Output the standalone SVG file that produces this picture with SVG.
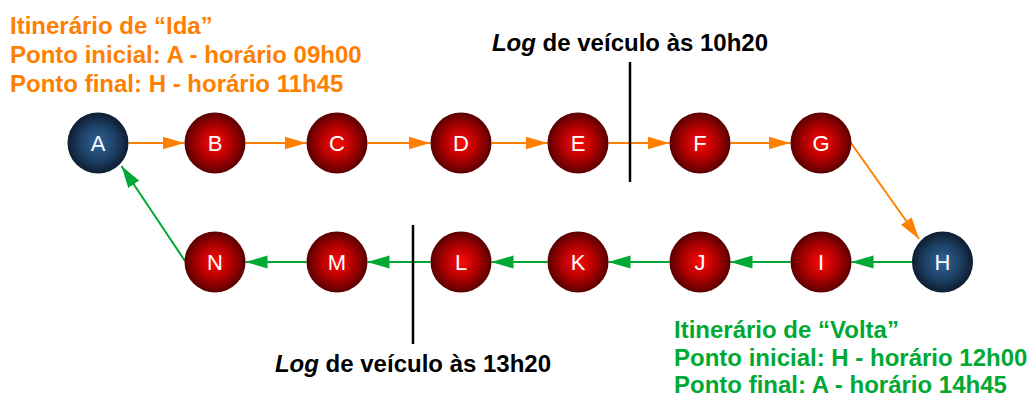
<svg xmlns="http://www.w3.org/2000/svg" width="1035" height="396" viewBox="0 0 1035 396">
<style>
.lbl{font-family:"Liberation Sans",Arial,sans-serif;font-size:24px;font-weight:bold}
.or{fill:#ff8000}
.gr{fill:#00a933}
.blk{fill:#000}
.nt{font-family:"Liberation Sans",Arial,sans-serif;font-size:22px;fill:#fff;text-anchor:middle}
.red{fill:url(#gRed)}
.blue{fill:url(#gBlue)}
.eo{stroke:#ff8000;stroke-width:2;fill:none;marker-end:url(#aO)}
.eg{stroke:#00a933;stroke-width:2;fill:none;marker-end:url(#aG)}
.vl{stroke:#000;stroke-width:2.5}
</style>
<defs>
<radialGradient id="gRed" cx="50%" cy="50%" r="50%">
<stop offset="0" stop-color="#ff0a0a"/>
<stop offset="0.55" stop-color="#b00000"/>
<stop offset="1" stop-color="#5a0000"/>
</radialGradient>
<radialGradient id="gBlue" cx="50%" cy="50%" r="50%">
<stop offset="0" stop-color="#30649a"/>
<stop offset="0.6" stop-color="#1d3f63"/>
<stop offset="1" stop-color="#0d1d30"/>
</radialGradient>
<marker id="aO" markerUnits="userSpaceOnUse" markerWidth="22" markerHeight="14" refX="22" refY="7" orient="auto">
<path d="M0,0.5 L22,7 L0,13.5 z" fill="#ff8000"/>
</marker>
<marker id="aG" markerUnits="userSpaceOnUse" markerWidth="22" markerHeight="14" refX="22" refY="7" orient="auto">
<path d="M0,0.5 L22,7 L0,13.5 z" fill="#00a933"/>
</marker>
</defs>
<rect width="1035" height="396" fill="#fff"/>
<g id="connectors">
<line class="eo" x1="128.5" y1="143" x2="184.5" y2="143"/>
<line class="eo" x1="245.5" y1="143" x2="306.5" y2="143"/>
<line class="eo" x1="367.5" y1="143" x2="430.5" y2="143"/>
<line class="eo" x1="491.5" y1="143" x2="547.5" y2="143"/>
<line class="eo" x1="608.5" y1="143" x2="669.5" y2="143"/>
<line class="eo" x1="730.5" y1="143" x2="790.5" y2="143"/>
<line class="eo" x1="851" y1="143" x2="919" y2="239"/>
<line class="eg" x1="912" y1="262" x2="851.5" y2="262"/>
<line class="eg" x1="790.5" y1="262" x2="730.5" y2="262"/>
<line class="eg" x1="669.5" y1="262" x2="608.5" y2="262"/>
<line class="eg" x1="547.5" y1="262" x2="491.5" y2="262"/>
<line class="eg" x1="430.5" y1="262" x2="367.5" y2="262"/>
<line class="eg" x1="306.5" y1="262" x2="245.5" y2="262"/>
<line class="eg" x1="185" y1="261" x2="121.5" y2="166"/>
</g>
<g id="log-lines">
<line class="vl" x1="630" y1="62" x2="630" y2="182"/>
<line class="vl" x1="413" y1="225" x2="413" y2="344"/>
</g>
<g id="node-A"><circle class="blue" cx="98" cy="143" r="30.5"/><text class="nt" x="98" y="151">A</text></g>
<g id="node-B"><circle class="red" cx="215" cy="143" r="30.5"/><text class="nt" x="215" y="151">B</text></g>
<g id="node-C"><circle class="red" cx="337" cy="143" r="30.5"/><text class="nt" x="337" y="151">C</text></g>
<g id="node-D"><circle class="red" cx="461" cy="143" r="30.5"/><text class="nt" x="461" y="151">D</text></g>
<g id="node-E"><circle class="red" cx="578" cy="143" r="30.5"/><text class="nt" x="578" y="151">E</text></g>
<g id="node-F"><circle class="red" cx="700" cy="143" r="30.5"/><text class="nt" x="700" y="151">F</text></g>
<g id="node-G"><circle class="red" cx="821" cy="143" r="30.5"/><text class="nt" x="821" y="151">G</text></g>
<g id="node-H"><circle class="blue" cx="942.5" cy="262" r="30.5"/><text class="nt" x="942.5" y="270">H</text></g>
<g id="node-I"><circle class="red" cx="821" cy="262" r="30.5"/><text class="nt" x="821" y="270">I</text></g>
<g id="node-J"><circle class="red" cx="700" cy="262" r="30.5"/><text class="nt" x="700" y="270">J</text></g>
<g id="node-K"><circle class="red" cx="578" cy="262" r="30.5"/><text class="nt" x="578" y="270">K</text></g>
<g id="node-L"><circle class="red" cx="461" cy="262" r="30.5"/><text class="nt" x="461" y="270">L</text></g>
<g id="node-M"><circle class="red" cx="337" cy="262" r="30.5"/><text class="nt" x="337" y="270">M</text></g>
<g id="node-N"><circle class="red" cx="215" cy="262" r="30.5"/><text class="nt" x="215" y="270">N</text></g>
<g id="text-ida">
<text class="lbl or" x="10" y="34">Itinerário de “Ida”</text>
<text class="lbl or" x="10" y="63">Ponto inicial: A - horário 09h00</text>
<text class="lbl or" x="10" y="92">Ponto final: H - horário 11h45</text>
</g>
<g id="text-volta">
<text class="lbl gr" x="674" y="338">Itinerário de “Volta”</text>
<text class="lbl gr" x="674" y="366">Ponto inicial: H - horário 12h00</text>
<text class="lbl gr" x="674" y="393">Ponto final: A - horário 14h45</text>
</g>
<g id="text-log">
<text class="lbl blk" x="630" y="51" text-anchor="middle"><tspan font-style="italic">Log</tspan> de veículo às 10h20</text>
<text class="lbl blk" x="413" y="372" text-anchor="middle"><tspan font-style="italic">Log</tspan> de veículo às 13h20</text>
</g>
</svg>
